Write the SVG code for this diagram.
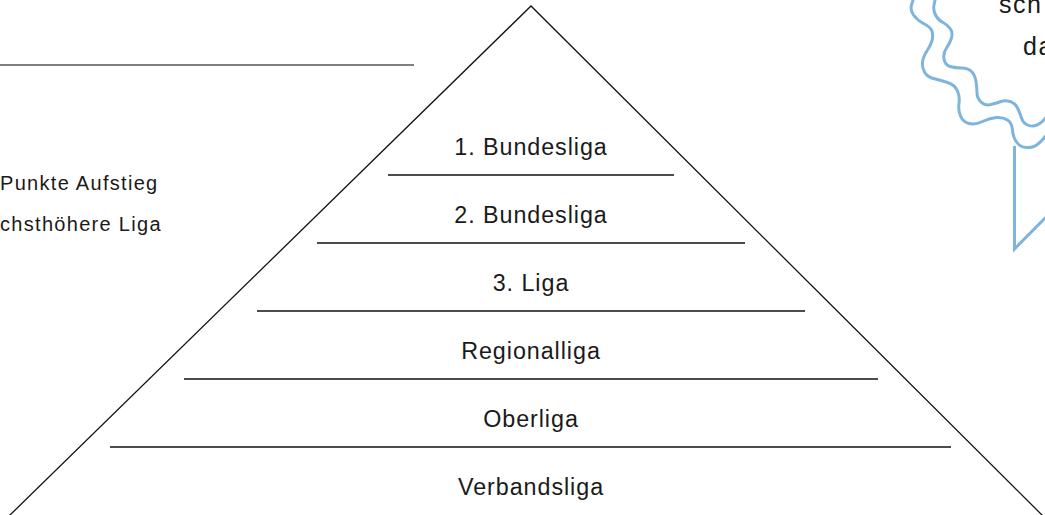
<svg xmlns="http://www.w3.org/2000/svg" width="1045" height="515" viewBox="0 0 1045 515">
<style>
.lbl{font-family:"Liberation Sans",Arial,sans-serif;font-size:23.3px;fill:#1a1a1a;text-anchor:middle;letter-spacing:0.95px}
.side{font-family:"Liberation Sans",Arial,sans-serif;font-size:20px;fill:#1a1a1a;letter-spacing:1.3px}
.bub{font-family:"Liberation Sans",Arial,sans-serif;font-size:25px;fill:#1a1a1a;letter-spacing:1.5px}
.tier{stroke:#111;stroke-width:1.3;fill:none}
.wave{stroke:#7fb5dd;stroke-width:3;fill:none;stroke-linecap:round;stroke-linejoin:round}
</style>
<rect width="1045" height="515" fill="#fff"/>
<g id="bubble">
<path class="wave" d="M913,0 L911.5,5 Q910,10 913.5,15 Q917,20 923.5,23.5 Q930,27 931.5,30 Q933,33 932.5,38 Q932,43 927.5,50 Q923,57 922.5,62 Q922,67 924.5,72 Q927,77 933.5,78.5 Q940,80 947.5,82.5 Q955,85 957.5,91 Q960,97 959,103.5 Q958,110 960.5,116 Q963,122 969,123.5 Q975,125 982.5,121.5 Q990,118 996.5,117.5 Q1003,117 1007.5,120 Q1012,123 1012.5,130 Q1013,137 1016.5,142 Q1020,147 1026.5,147.5 Q1033,148 1038,144 Q1043,140 1047,134"/>
<path class="wave" d="M935,0 L934,5 Q933,10 935.5,15 Q938,20 943,22.5 Q948,25 950.5,29 Q953,33 951.5,38 Q950,43 946.5,48 Q943,53 944,59 Q945,65 950,66.5 Q955,68 961.5,68 Q968,68 971.5,71.5 Q975,75 976,81.5 Q977,88 977,93 Q977,98 981,102 Q985,106 991,104.5 Q997,103 1001,101.5 Q1005,100 1010,101.5 Q1015,103 1017.5,108 Q1020,113 1021.5,118 Q1023,123 1027.5,125 Q1032,127 1037,125 Q1042,123 1047,116"/>
<path class="wave" d="M1014.5,146 L1014.5,249 L1047,216" style="stroke-linecap:butt;stroke-linejoin:miter"/>
<text class="bub" x="999" y="13">sch</text>
<text class="bub" x="1023" y="55">da</text>
</g>
<g id="legend">
<line x1="0" y1="65" x2="414" y2="65" stroke="#555" stroke-width="1.6"/>
<text class="side" x="0" y="190">Punkte Aufstieg</text>
<text class="side" x="0" y="231">chsthöhere Liga</text>
</g>
<g id="pyramid">
<polyline points="9,516 531,6 1043,516" fill="none" stroke="#111" stroke-width="1.3"/>
</g>
<g id="connectors">
<line class="tier" x1="388" y1="175" x2="674" y2="175"/>
<line class="tier" x1="317" y1="243" x2="745" y2="243"/>
<line class="tier" x1="257" y1="311" x2="805" y2="311"/>
<line class="tier" x1="184" y1="379" x2="878" y2="379"/>
<line class="tier" x1="110" y1="447" x2="951" y2="447"/>
</g>
<g id="tier1"><text class="lbl" x="531" y="155">1. Bundesliga</text></g>
<g id="tier2"><text class="lbl" x="531" y="223">2. Bundesliga</text></g>
<g id="tier3"><text class="lbl" x="531" y="291">3. Liga</text></g>
<g id="tier4"><text class="lbl" x="531" y="359">Regionalliga</text></g>
<g id="tier5"><text class="lbl" x="531" y="427">Oberliga</text></g>
<g id="tier6"><text class="lbl" x="531" y="495">Verbandsliga</text></g>
</svg>
